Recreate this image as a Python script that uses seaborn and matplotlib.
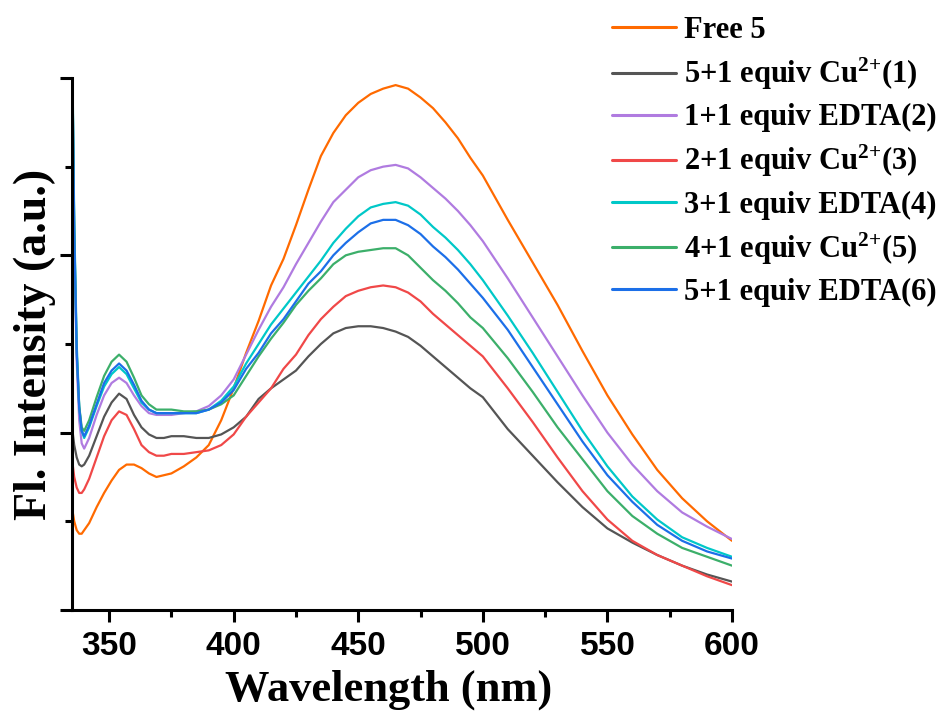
import numpy as np
import pandas as pd
import matplotlib
matplotlib.use("Agg")
import matplotlib.pyplot as plt
from matplotlib.ticker import MultipleLocator, NullFormatter
import seaborn as sns

# ---------------- Data ----------------
wavelength = [335.3, 336, 337, 338, 339, 340, 342, 345, 348, 351, 354, 357, 360, 363,
              366, 369, 372, 375, 380, 385, 390, 395, 400, 405, 410, 415, 420, 425,
              430, 435, 440, 445, 450, 455, 460, 465, 470, 475, 480, 485, 490, 495,
              500, 510, 520, 530, 540, 550, 560, 570, 580, 590, 600]

free5 = [0.56, 0.50, 0.45, 0.43, 0.43, 0.45, 0.49, 0.58, 0.66, 0.73, 0.79, 0.82, 0.82, 0.80,
         0.77, 0.75, 0.76, 0.77, 0.81, 0.86, 0.93, 1.07, 1.25, 1.45, 1.63, 1.83, 1.98, 2.17,
         2.37, 2.56, 2.69, 2.79, 2.86, 2.91, 2.94, 2.96, 2.94, 2.89, 2.83, 2.75, 2.66, 2.55,
         2.45, 2.20, 1.96, 1.72, 1.46, 1.21, 0.99, 0.79, 0.63, 0.50, 0.39]

cu_1 = [1.01, 0.93, 0.86, 0.82, 0.81, 0.82, 0.87, 0.98, 1.09, 1.17, 1.22, 1.19, 1.10, 1.03,
        0.99, 0.97, 0.97, 0.98, 0.98, 0.97, 0.97, 0.99, 1.03, 1.09, 1.19, 1.25, 1.30, 1.35,
        1.43, 1.50, 1.56, 1.59, 1.60, 1.60, 1.59, 1.57, 1.54, 1.49, 1.43, 1.37, 1.31, 1.25,
        1.20, 1.02, 0.87, 0.72, 0.58, 0.46, 0.38, 0.31, 0.25, 0.20, 0.16]

edta_2 = [2.98, 2.10, 1.40, 1.07, 0.94, 0.91, 0.97, 1.10, 1.21, 1.28, 1.31, 1.28, 1.21, 1.15,
          1.11, 1.10, 1.10, 1.10, 1.11, 1.12, 1.15, 1.21, 1.30, 1.44, 1.58, 1.71, 1.82, 1.95,
          2.07, 2.19, 2.30, 2.37, 2.44, 2.48, 2.50, 2.51, 2.49, 2.44, 2.38, 2.32, 2.25, 2.17,
          2.08, 1.87, 1.65, 1.43, 1.21, 1.00, 0.82, 0.67, 0.55, 0.47, 0.40]

cu_3 = [0.83, 0.75, 0.69, 0.66, 0.66, 0.68, 0.74, 0.86, 0.98, 1.07, 1.12, 1.10, 1.02, 0.93,
        0.89, 0.87, 0.87, 0.88, 0.88, 0.89, 0.90, 0.93, 0.99, 1.09, 1.17, 1.25, 1.36, 1.44,
        1.55, 1.64, 1.71, 1.77, 1.80, 1.82, 1.83, 1.82, 1.79, 1.74, 1.67, 1.61, 1.55, 1.49,
        1.43, 1.25, 1.06, 0.86, 0.67, 0.51, 0.39, 0.31, 0.25, 0.19, 0.14]

edta_4 = [3.05, 2.20, 1.50, 1.15, 1.01, 0.97, 1.03, 1.15, 1.26, 1.33, 1.37, 1.33, 1.25, 1.17,
          1.13, 1.11, 1.11, 1.11, 1.11, 1.11, 1.13, 1.18, 1.26, 1.39, 1.50, 1.61, 1.70, 1.79,
          1.88, 1.97, 2.07, 2.15, 2.22, 2.27, 2.29, 2.30, 2.28, 2.23, 2.16, 2.10, 2.03, 1.95,
          1.86, 1.66, 1.45, 1.23, 1.01, 0.81, 0.64, 0.51, 0.41, 0.35, 0.30]

cu_5 = [3.00, 2.15, 1.45, 1.15, 1.03, 1.01, 1.07, 1.20, 1.32, 1.40, 1.44, 1.40, 1.31, 1.21,
        1.16, 1.13, 1.13, 1.13, 1.12, 1.12, 1.13, 1.16, 1.21, 1.32, 1.43, 1.53, 1.62, 1.72,
        1.80, 1.87, 1.95, 2.00, 2.02, 2.03, 2.04, 2.04, 2.00, 1.93, 1.86, 1.80, 1.73, 1.65,
        1.59, 1.42, 1.23, 1.03, 0.85, 0.67, 0.53, 0.43, 0.35, 0.30, 0.25]

edta_6 = [3.00, 2.15, 1.45, 1.14, 1.01, 0.98, 1.04, 1.16, 1.28, 1.35, 1.39, 1.35, 1.27, 1.18,
          1.13, 1.11, 1.11, 1.11, 1.11, 1.11, 1.13, 1.17, 1.24, 1.36, 1.45, 1.56, 1.64, 1.74,
          1.84, 1.91, 2.00, 2.07, 2.13, 2.18, 2.20, 2.20, 2.17, 2.12, 2.05, 1.99, 1.92, 1.84,
          1.76, 1.58, 1.37, 1.16, 0.95, 0.76, 0.61, 0.48, 0.39, 0.33, 0.29]

labels = ["Free 5",
          "5+1 equiv Cu$^{2{+}}$(1)",
          "1+1 equiv EDTA(2)",
          "2+1 equiv Cu$^{2{+}}$(3)",
          "3+1 equiv EDTA(4)",
          "4+1 equiv Cu$^{2{+}}$(5)",
          "5+1 equiv EDTA(6)"]
series = [free5, cu_1, edta_2, cu_3, edta_4, cu_5, edta_6]
colors = ["#FF6A00", "#555555", "#B07BE0", "#F04848", "#00C8C8", "#3CAF6A", "#1C6FE8"]

# long-form table for seaborn
frames = []
for lab, vals in zip(labels, series):
    frames.append(pd.DataFrame({"wavelength": wavelength, "intensity": vals, "sample": lab}))
df = pd.concat(frames, ignore_index=True)

# ---------------- Style ----------------
sns.set_style("ticks", {"axes.edgecolor": "black", "text.color": "black",
                        "axes.labelcolor": "black", "xtick.color": "black",
                        "ytick.color": "black"})
plt.rcParams["font.family"] = ["Liberation Serif", "DejaVu Serif"]
plt.rcParams["font.weight"] = "bold"
plt.rcParams["mathtext.fontset"] = "custom"
plt.rcParams["mathtext.rm"] = "Liberation Serif:bold"
plt.rcParams["mathtext.it"] = "Liberation Serif:bold"
plt.rcParams["mathtext.bf"] = "Liberation Serif:bold"
plt.rcParams["mathtext.default"] = "rm"

fig = plt.figure(figsize=(9.4, 7.13), dpi=100)
ax = fig.add_axes([0.0771, 0.1445, 0.7016, 0.7461])

sns.lineplot(data=df, x="wavelength", y="intensity", hue="sample",
             hue_order=labels, palette=colors, linewidth=1.6, ax=ax,
             estimator=None, sort=False)

ax.set_xlim(335.3, 600)
ax.set_ylim(0, 3.0)

# spines / ticks
sns.despine(ax=ax, top=True, right=True)
for side in ["left", "bottom"]:
    ax.spines[side].set_linewidth(2.2)
    ax.spines[side].set_color("black")
ax.xaxis.set_major_locator(MultipleLocator(50))
ax.xaxis.set_minor_locator(MultipleLocator(25))
ax.yaxis.set_major_locator(MultipleLocator(1))
ax.yaxis.set_minor_locator(MultipleLocator(0.5))
ax.yaxis.set_major_formatter(NullFormatter())
ax.tick_params(which="major", length=8.5, width=2.2, direction="out", colors="black")
ax.tick_params(which="minor", length=5, width=2.2, direction="out", colors="black")
ax.tick_params(axis="x", which="major", pad=7)
for t in ax.get_xticklabels():
    t.set_fontfamily(["Liberation Sans", "DejaVu Sans"])
    t.set_fontweight("bold")
    t.set_fontsize(24)

ax.set_xlabel("Wavelength (nm)", fontsize=32, fontweight="bold", labelpad=5, color="black")
ax.xaxis.label.set_x(0.48)
ax.set_ylabel("Fl. Intensity (a.u.)", fontsize=33, fontweight="bold", labelpad=0, color="black")

# legend outside on the right
handles, labs = ax.get_legend_handles_labels()
leg = ax.legend(handles, labs, loc="upper left", frameon=False,
                bbox_to_anchor=(612 / 940, 1 - 16 / 713), bbox_transform=fig.transFigure,
                fontsize=22, handlelength=2.1, handletextpad=0.25,
                labelspacing=0.36, borderpad=0, borderaxespad=0)
for h in leg.get_lines():
    h.set_linewidth(2.2)
for t in leg.get_texts():
    t.set_color("black")

fig.savefig("out.png", dpi=100)
